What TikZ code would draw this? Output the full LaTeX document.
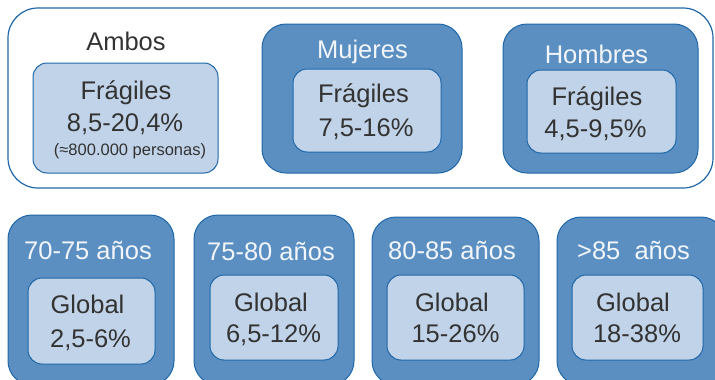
\documentclass[tikz,border=0pt]{standalone}
\usepackage{fontspec}
\setmainfont{Liberation Sans}
\definecolor{darkfill}{HTML}{5B8FC2}
\definecolor{lightfill}{HTML}{C0D3E8}
\definecolor{edge}{HTML}{1F67A8}
\definecolor{txt}{HTML}{333333}
\definecolor{lbl}{HTML}{F2F6FB}
\begin{document}
\begin{tikzpicture}[x=1pt,y=-1pt,
  boxbase/.style={draw=edge,inner sep=0pt,outer sep=0pt},
  whitebox/.style={boxbase,fill=white,line width=1.2pt,rounded corners=30pt},
  darkbox/.style={boxbase,fill=darkfill,line width=1pt,rounded corners=24pt},
  lightbox/.style={boxbase,fill=lightfill,line width=1pt,rounded corners=14pt},
  bigtxt/.style={anchor=base,inner sep=0pt,text=txt,font=\fontsize{25.5}{30}\selectfont},
  smalltxt/.style={anchor=base,inner sep=0pt,text=txt,font=\fontsize{16.5}{20}\selectfont},
  lbltxt/.style={anchor=base,inner sep=0pt,text=lbl,font=\fontsize{25.5}{30}\selectfont}]
\useasboundingbox (0,0) rectangle (715,380);
\clip (0,0) rectangle (715,380);
% top group
\node[whitebox,minimum width=705pt,minimum height=180pt] (outer) at (360.5,98) {};
\node[lightbox,minimum width=185pt,minimum height=110pt] (ambosin) at (125.5,118) {};
\node[bigtxt] (ambos) at (126,50) {Ambos};
\node[bigtxt] (af) at (126,99) {Frágiles};
\node[bigtxt] (ap) at (125,131) {8,5-20,4\%};
\node[smalltxt] (apers) at (130,155) {(≈800.000 personas)};
\node[darkbox,minimum width=200pt,minimum height=149pt] (muj) at (362,98.5) {};
\node[lightbox,minimum width=148pt,minimum height=83pt] (mujin) at (367,110.5) {};
\node[lbltxt] (mujl) at (362.5,58) {Mujeres};
\node[bigtxt] (mf) at (363.5,102) {Frágiles};
\node[bigtxt] (mp) at (366,136) {7,5-16\%};
\node[darkbox,minimum width=195pt,minimum height=149pt] (hom) at (600.5,98.5) {};
\node[lightbox,minimum width=149pt,minimum height=83pt] (homin) at (601.5,111.5) {};
\node[lbltxt] (homl) at (596.5,63) {Hombres};
\node[bigtxt] (hf) at (597,105) {Frágiles};
\node[bigtxt] (hp) at (595.5,137) {4,5-9,5\%};
% bottom group
\node[darkbox,minimum width=166pt,minimum height=170pt] (b1) at (91,300) {};
\node[darkbox,minimum width=160pt,minimum height=170pt] (b2) at (274,300) {};
\node[darkbox,minimum width=167pt,minimum height=168pt] (b3) at (455.5,301) {};
\node[darkbox,minimum width=168pt,minimum height=168pt] (b4) at (641,301) {};
\node[lightbox,minimum width=127pt,minimum height=86pt] (i1) at (91.5,321) {};
\node[lightbox,minimum width=128pt,minimum height=85pt] (i2) at (274,317.5) {};
\node[lightbox,minimum width=137pt,minimum height=85pt] (i3) at (455.5,317.5) {};
\node[lightbox,minimum width=131pt,minimum height=85pt] (i4) at (637.5,317.5) {};
\node[lbltxt] (l1) at (88,259) {70-75 años};
\node[lbltxt] (l2) at (271,260) {75-80 años};
\node[lbltxt] (l3) at (452,259) {80-85 años};
\node[lbltxt] (l4) at (633.5,259) {>85\ \ años};
\node[bigtxt] (g1) at (87.5,313) {Global};
\node[bigtxt] (g2) at (271,311) {Global};
\node[bigtxt] (g3) at (452,311) {Global};
\node[bigtxt] (g4) at (633,311) {Global};
\node[bigtxt] (p1) at (90.5,347) {2,5-6\%};
\node[bigtxt] (p2) at (273.5,342) {6,5-12\%};
\node[bigtxt] (p3) at (455.5,342) {15-26\%};
\node[bigtxt] (p4) at (637,342) {18-38\%};
\end{tikzpicture}
\end{document}
